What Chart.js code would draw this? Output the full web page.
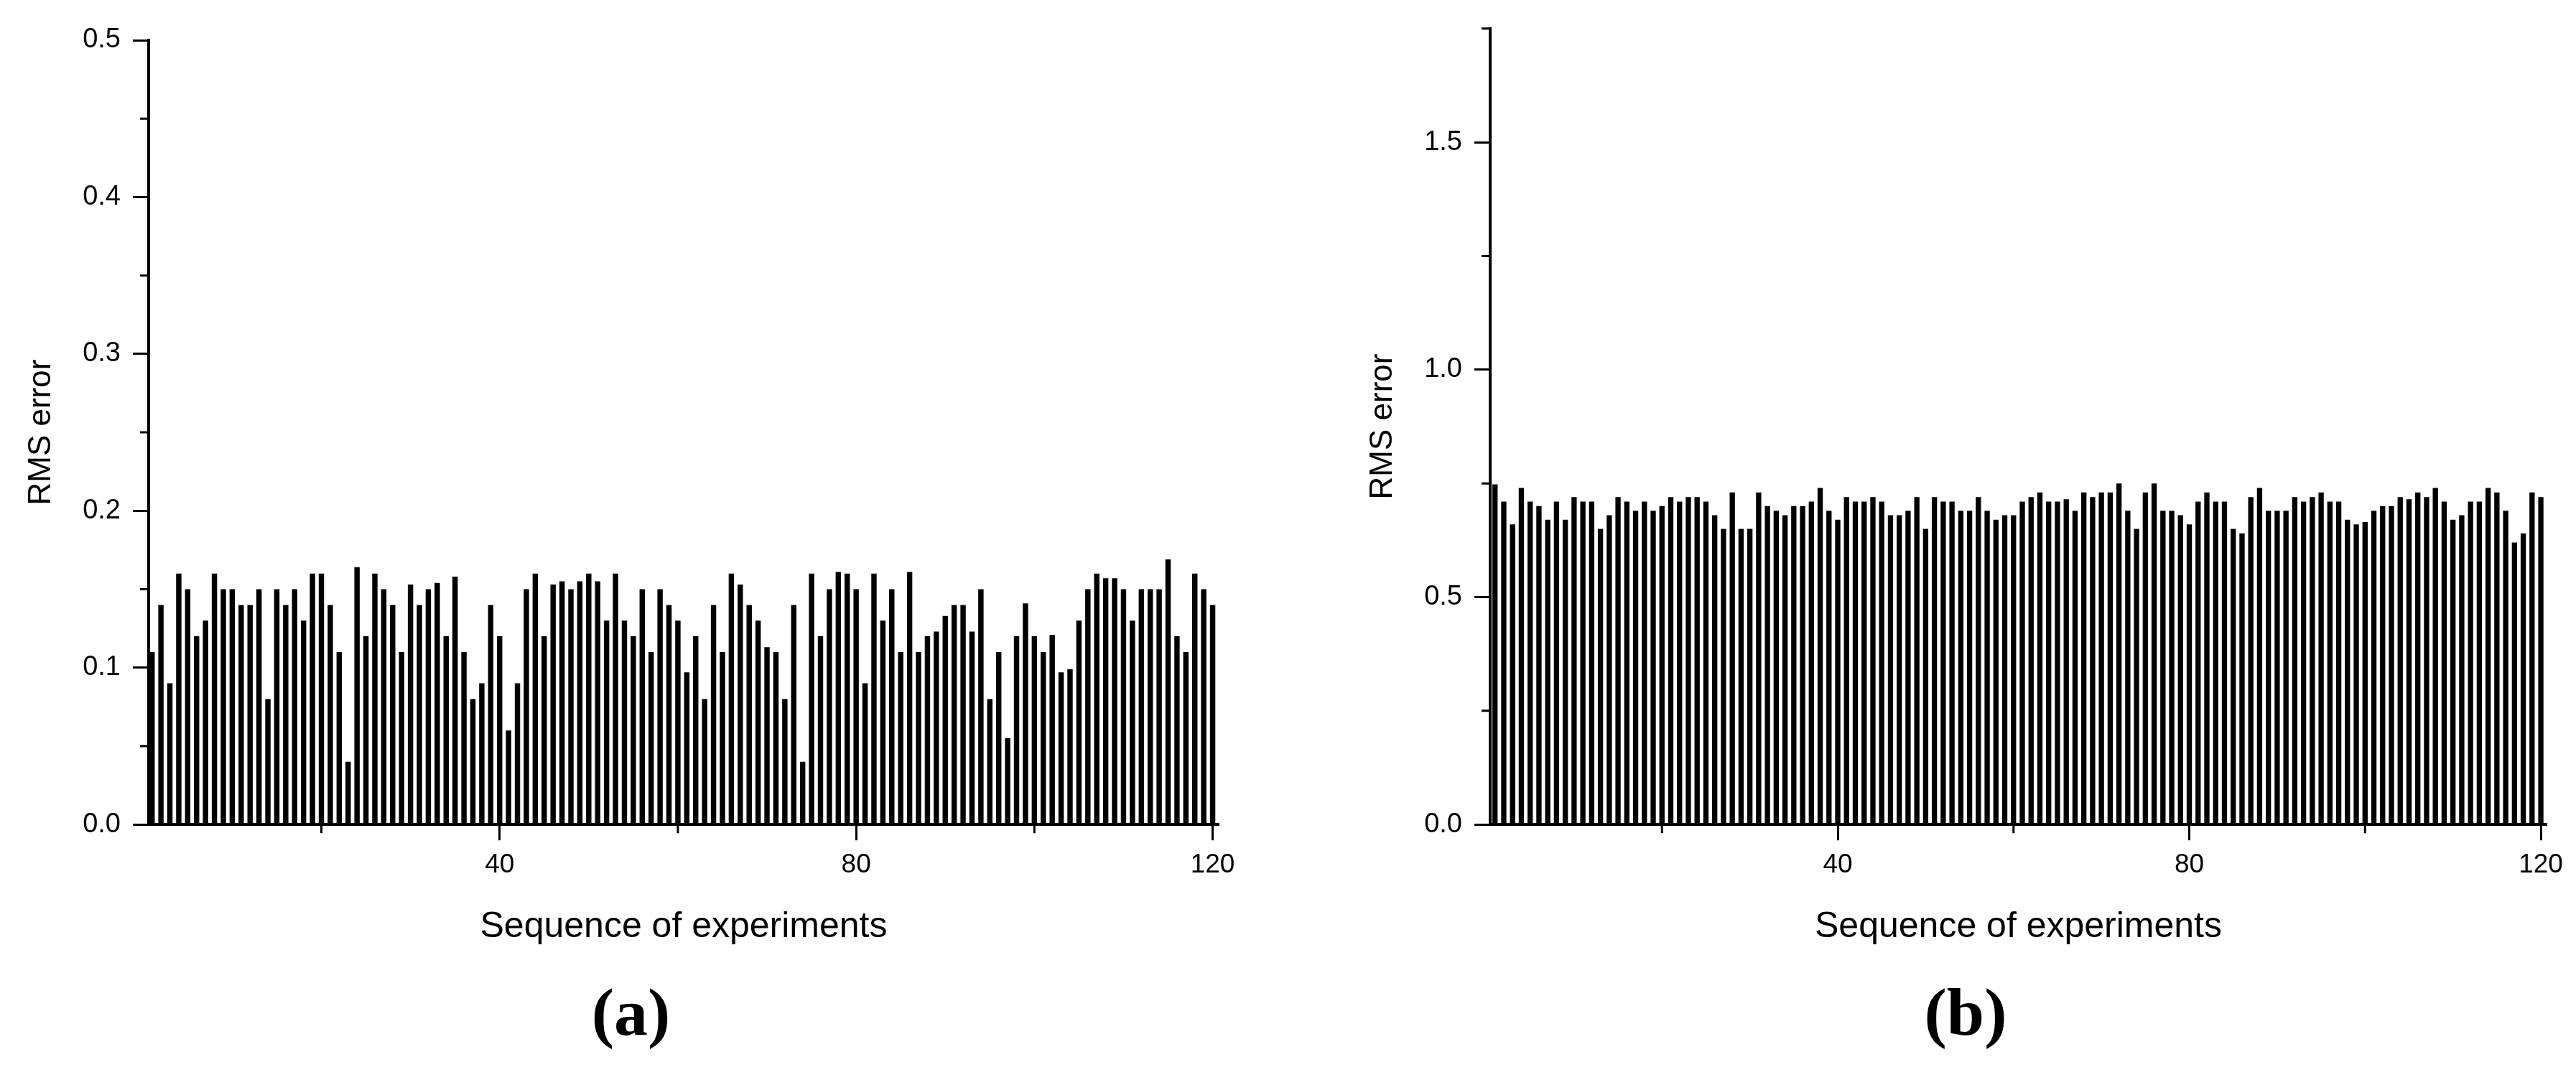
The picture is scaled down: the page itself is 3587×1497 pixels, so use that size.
<!DOCTYPE html>
<html>
<head>
<meta charset="utf-8">
<title>RMS error per experiment</title>
<script src="https://cdn.jsdelivr.net/npm/chart.js@4.4.1/dist/chart.umd.min.js"></script>
<style>
  body { margin: 0; background: #fff; }
  #wrap { position: relative; width: 3587px; height: 1497px; background: #fff; overflow: hidden; }
  canvas { position: absolute; top: 0; }
  #chartA { left: 0; }
  #chartB { left: 1868px; }
</style>
</head>
<body>
<div id="wrap">
  <canvas id="chartA" width="1850" height="1483"></canvas>
  <canvas id="chartB" width="1779" height="1483"></canvas>
</div>
<script>
// experiment numbers 1..120 (x categories)
const experiments = Array.from({ length: 120 }, (_, i) => i + 1);

// (a) RMS error
const rmsA = [
  0.11, 0.14, 0.09, 0.16, 0.15, 0.12, 0.13, 0.16, 0.15, 0.15,
  0.14, 0.14, 0.15, 0.08, 0.15, 0.14, 0.15, 0.13, 0.16, 0.16,
  0.14, 0.11, 0.04, 0.164, 0.12, 0.16, 0.15, 0.14, 0.11, 0.153,
  0.14, 0.15, 0.154, 0.12, 0.158, 0.11, 0.08, 0.09, 0.14, 0.12,
  0.06, 0.09, 0.15, 0.16, 0.12, 0.153, 0.155, 0.15, 0.155, 0.16,
  0.155, 0.13, 0.16, 0.13, 0.12, 0.15, 0.11, 0.15, 0.14, 0.13,
  0.097, 0.12, 0.08, 0.14, 0.11, 0.16, 0.153, 0.14, 0.13, 0.113,
  0.11, 0.08, 0.14, 0.04, 0.16, 0.12, 0.15, 0.161, 0.16, 0.15,
  0.09, 0.16, 0.13, 0.15, 0.11, 0.161, 0.11, 0.12, 0.123, 0.133,
  0.14, 0.14, 0.123, 0.15, 0.08, 0.11, 0.055, 0.12, 0.141, 0.12,
  0.11, 0.121, 0.097, 0.099, 0.13, 0.15, 0.16, 0.157, 0.157, 0.15,
  0.13, 0.15, 0.15, 0.15, 0.169, 0.12, 0.11, 0.16, 0.15, 0.14
];

// (b) RMS error
const rmsB = [
  0.748, 0.71, 0.66, 0.74, 0.71, 0.70, 0.67, 0.71, 0.67, 0.72,
  0.71, 0.71, 0.65, 0.68, 0.72, 0.71, 0.69, 0.71, 0.69, 0.70,
  0.72, 0.71, 0.72, 0.72, 0.71, 0.68, 0.65, 0.73, 0.65, 0.65,
  0.73, 0.70, 0.69, 0.68, 0.70, 0.70, 0.71, 0.74, 0.69, 0.67,
  0.72, 0.71, 0.71, 0.72, 0.71, 0.68, 0.68, 0.69, 0.72, 0.65,
  0.72, 0.71, 0.71, 0.69, 0.69, 0.72, 0.69, 0.67, 0.68, 0.68,
  0.71, 0.72, 0.73, 0.71, 0.71, 0.715, 0.69, 0.73, 0.72, 0.73,
  0.73, 0.75, 0.69, 0.65, 0.73, 0.75, 0.69, 0.69, 0.68, 0.66,
  0.71, 0.73, 0.71, 0.71, 0.65, 0.64, 0.72, 0.74, 0.69, 0.69,
  0.69, 0.72, 0.71, 0.72, 0.73, 0.71, 0.71, 0.67, 0.66, 0.665,
  0.69, 0.70, 0.70, 0.72, 0.715, 0.73, 0.72, 0.74, 0.71, 0.67,
  0.68, 0.71, 0.71, 0.74, 0.73, 0.69, 0.62, 0.64, 0.73, 0.72
];

const xTicks = [40, 80, 120];
const xMinorTicks = [20, 60, 100];
const yTicksA = [0, 0.1, 0.2, 0.3, 0.4, 0.5];
const yMinorTicksA = [0.05, 0.15, 0.25, 0.35, 0.45];
const yTicksB = [0, 0.5, 1.0, 1.5];
const yMinorTicksB = [0.25, 0.75, 1.25, 1.75];

const sans = "'Liberation Sans', Arial, sans-serif";
const serif = "'Liberation Serif', 'Times New Roman', serif";

// short unlabeled ticks between the major ones
const minorTicks = {
  id: 'minorTicks',
  afterDraw(chart, args, opts) {
    const { ctx } = chart;
    const { x, y } = chart.scales;
    ctx.save();
    ctx.strokeStyle = '#000';
    ctx.lineWidth = 3;
    ctx.beginPath();
    opts.x.forEach(v => {
      const px = x.getPixelForValue(v);
      ctx.moveTo(px, y.bottom);
      ctx.lineTo(px, y.bottom + opts.len);
    });
    opts.y.forEach(v => {
      const py = y.getPixelForValue(v);
      ctx.moveTo(x.left - opts.len, py);
      ctx.lineTo(x.left, py);
    });
    ctx.stroke();
    ctx.restore();
  }
};

const buildChart = (canvasId, values, cfg) => new Chart(document.getElementById(canvasId), {
  type: 'bar',
  data: {
    datasets: [{
      data: experiments.map((x, i) => ({ x, y: values[i] })),
      backgroundColor: '#000',
      borderWidth: 0,
      barPercentage: 0.6,
      categoryPercentage: 1
    }]
  },
  plugins: [minorTicks],
  options: {
    responsive: false,
    animation: false,
    layout: { padding: { top: cfg.padTop, right: cfg.padRight, left: 0, bottom: 0 } },
    scales: {
      x: {
        type: 'linear',
        min: cfg.xMin,
        max: cfg.xMax,
        offset: false,
        afterFit: s => { s.height = 188; },
        afterBuildTicks: s => { s.ticks = xTicks.map(v => ({ value: v })); },
        grid: { offset: false, drawOnChartArea: false, tickLength: 22, tickWidth: 3, tickColor: '#000' },
        border: { display: true, width: 4, color: '#000' },
        ticks: { color: '#000', padding: 12, maxRotation: 0, font: { family: sans, size: 37 }, callback: v => String(v) },
        title: { display: true, text: 'Sequence of experiments', color: '#000', padding: { top: 0, bottom: 15 }, font: { family: sans, size: 50, lineHeight: 1.2 } }
      },
      y: {
        min: 0,
        max: cfg.yMax,
        afterFit: s => { s.width = 207; },
        afterBuildTicks: s => { s.ticks = cfg.yTicks.map(v => ({ value: v })); },
        grid: { drawOnChartArea: false, tickLength: 22, tickWidth: 3, tickColor: '#000' },
        border: { display: true, width: 4, color: '#000' },
        ticks: { color: '#000', padding: 17, font: { family: sans, size: 38 }, callback: v => v.toFixed(1) },
        title: { display: true, text: 'RMS error', color: '#000', padding: { top: 31, bottom: 0 }, font: { family: sans, size: 44, lineHeight: 1.2 } }
      },
      // empty strip on the right so the caption sits a little right of the canvas centre
      spacer: {
        position: 'right',
        min: 0,
        max: 1,
        afterFit: s => { s.width = 60; },
        grid: { display: false },
        border: { display: false },
        ticks: { display: false }
      }
    },
    plugins: {
      legend: { display: false },
      tooltip: { enabled: false },
      title: {
        display: true,
        text: cfg.caption,
        position: 'bottom',
        color: '#000',
        padding: { top: 24, bottom: 10 },
        font: { family: serif, weight: 'bold', size: 94, lineHeight: 1.2 }
      },
      minorTicks: { x: xMinorTicks, y: cfg.yMinor, len: 12 }
    }
  }
});

buildChart('chartA', rmsA, {
  caption: '(a)', xMin: 0.62, xMax: 120.68, yMax: 0.5,
  yTicks: yTicksA, yMinor: yMinorTicksA, padTop: 56, padRight: 93
});

buildChart('chartB', rmsB, {
  caption: '(b)', xMin: 0.45, xMax: 120.65, yMax: 1.75,
  yTicks: yTicksB, yMinor: yMinorTicksB, padTop: 33, padRight: 41
});
</script>
</body>
</html>
